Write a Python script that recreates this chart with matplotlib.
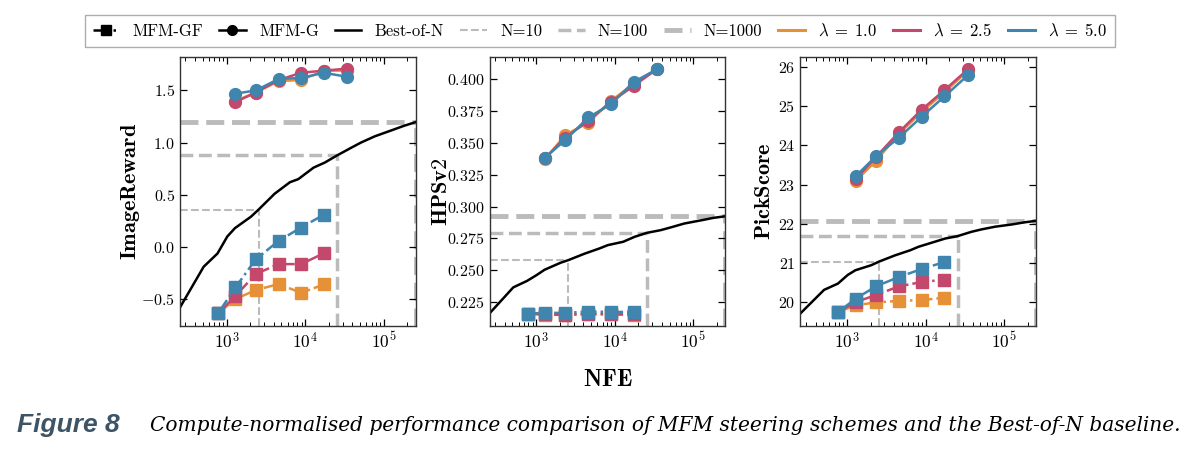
import matplotlib
matplotlib.use("Agg")
import matplotlib.pyplot as plt
from matplotlib.lines import Line2D
from matplotlib.ticker import FuncFormatter, LogLocator, MultipleLocator
import numpy as np

plt.rcParams['font.family'] = 'serif'
plt.rcParams['font.serif'] = ['cmr10', 'DejaVu Serif']
plt.rcParams['mathtext.fontset'] = 'cm'
plt.rcParams['axes.unicode_minus'] = False

# ---- data ----
metrics = ['ImageReward', 'HPSv2', 'PickScore']
lambdas = ['1.0', '2.5', '5.0']

# Best-of-N baseline: N samples, 256 NFE each
bon_n = [1, 2, 3, 4, 5, 8, 10, 16, 25, 32, 50, 70, 100, 150, 200, 300, 500, 700, 1000]
bon_ir = [-0.58, -0.19, -0.063, 0.10, 0.18, 0.29, 0.358, 0.51, 0.62, 0.65, 0.76, 0.81,
          0.878, 0.95, 1.00, 1.06, 1.12, 1.16, 1.197]
bon_hps = [0.2164, 0.2367, 0.2418, 0.2465, 0.2505, 0.2560, 0.2580, 0.2630, 0.2672, 0.2698,
           0.2724, 0.2763, 0.2794, 0.2815, 0.2836, 0.2867, 0.2893, 0.2911, 0.2924]
bon_pick = [19.72, 20.32, 20.48, 20.70, 20.82, 20.95, 21.04, 21.20, 21.33, 21.42, 21.54,
            21.63, 21.69, 21.80, 21.86, 21.93, 21.99, 22.04, 22.08]
nfe_per_sample = 256
n_marks = [10, 100, 1000]

# MFM-G (circles)
g_nfe = [1300, 2350, 4600, 8900, 17400, 34600]
g_ir = [[1.40, 1.48, 1.59, 1.60, 1.69, 1.69],
        [1.39, 1.48, 1.60, 1.67, 1.69, 1.71],
        [1.47, 1.50, 1.61, 1.62, 1.67, 1.63]]
g_hps = [[0.337, 0.356, 0.3657, 0.3827, 0.396, 0.4076],
         [0.338, 0.354, 0.367, 0.3817, 0.3945, 0.4076],
         [0.3383, 0.352, 0.3697, 0.380, 0.3974, 0.4076]]
g_pick = [[23.10, 23.61, 24.30, 24.85, 25.36, 25.90],
          [23.15, 23.71, 24.34, 24.91, 25.41, 25.94],
          [23.22, 23.73, 24.20, 24.73, 25.25, 25.79]]

# MFM-GF (squares)
gf_nfe = [780, 1300, 2350, 4600, 8900, 17400]
gf_ir = [[-0.637, -0.50, -0.414, -0.356, -0.44, -0.36],
         [-0.637, -0.47, -0.26, -0.165, -0.165, -0.06],
         [-0.637, -0.388, -0.12, 0.058, 0.186, 0.31]]
gf_hps = [[0.2162, 0.2153, 0.2152, 0.2157, 0.2155, 0.2153],
          [0.2162, 0.2155, 0.2153, 0.2160, 0.2157, 0.2155],
          [0.2162, 0.2168, 0.2167, 0.2178, 0.2175, 0.2175]]
gf_pick = [[19.76, 19.93, 20.00, 20.04, 20.06, 20.12],
           [19.76, 20.01, 20.19, 20.41, 20.52, 20.58],
           [19.76, 20.10, 20.41, 20.65, 20.85, 21.03]]

ylims = [(-0.758, 1.819), (0.2065, 0.4169), (19.40, 26.25)]
ysteps = [0.5, 0.025, 1.0]
yfmts = ['%.1f', '%.3f', '%d']

colors = ['#e69138', '#c4476c', '#3f85ad']
gray = '#bbbbbb'
n_lw = [1.5, 2.5, 3.5]

bon_all = [bon_ir, bon_hps, bon_pick]
g_all = [g_ir, g_hps, g_pick]
gf_all = [gf_ir, gf_hps, gf_pick]

fig = plt.figure(figsize=(12, 4.54), dpi=100)
lefts = [0.150, 0.408, 0.667]
label_x = [-0.162, -0.165, -0.11]
bon_nfe = np.array(bon_n) * nfe_per_sample
xmin, xmax = bon_nfe[0], bon_nfe[-1]

for i in range(3):
    ax = fig.add_axes([lefts[i], 0.282, 0.1965, 0.592])
    lo, hi = ylims[i]
    # Best-of-N reference lines
    for k, n in enumerate(n_marks):
        v = bon_all[i][bon_n.index(n)]
        x = n * nfe_per_sample
        ax.plot([xmin, x], [v, v], ls='--', color=gray, lw=n_lw[k], zorder=1)
        ax.plot([x, x], [lo, v], ls='--', color=gray, lw=n_lw[k], zorder=1)
    ax.plot(bon_nfe, bon_all[i], color='black', lw=1.8, zorder=2)
    for j in range(3):
        ax.plot(gf_nfe, gf_all[i][j], ls='-.', marker='s', ms=8, lw=1.8,
                color=colors[j], zorder=3)
    for j in range(3):
        ax.plot(g_nfe, g_all[i][j], ls='-', marker='o', ms=8.5, lw=1.8,
                color=colors[j], zorder=3)
    ax.set_xscale('log')
    ax.set_xlim(xmin, xmax)
    ax.set_ylim(lo, hi)
    ax.xaxis.set_major_locator(LogLocator(base=10))
    ax.xaxis.set_minor_locator(LogLocator(base=10, subs=np.arange(2, 10)))
    ax.xaxis.set_major_formatter(FuncFormatter(lambda v, p: r'$10^{%d}$' % round(np.log10(v))))
    ax.yaxis.set_major_locator(MultipleLocator(ysteps[i]))
    fmt = yfmts[i]
    ax.yaxis.set_major_formatter(FuncFormatter(lambda v, p, f=fmt: r'$%s$' % (f % v)))
    ax.tick_params(which='both', direction='in', top=True, right=True, labelsize=11.5)
    ax.tick_params(axis='x', labelsize=12.5)
    ax.tick_params(which='major', length=5, width=0.9)
    ax.tick_params(which='minor', length=2.8, width=0.7)
    for s in ax.spines.values():
        s.set_color('#333333')
        s.set_linewidth(1.0)
    ax.set_ylabel(r'$\mathbf{%s}$' % metrics[i], fontsize=16)
    ax.yaxis.set_label_coords(label_x[i], 0.5)

fig.text(0.507, 0.163, r'$\mathbf{NFE}$', fontsize=17, ha='center', va='center')

handles = [
    Line2D([], [], color='black', ls='-.', marker='s', ms=7, lw=1.8),
    Line2D([], [], color='black', ls='-', marker='o', ms=7, lw=1.8),
    Line2D([], [], color='black', lw=1.8),
    Line2D([], [], color=gray, ls='--', lw=n_lw[0]),
    Line2D([], [], color=gray, ls='--', lw=n_lw[1]),
    Line2D([], [], color=gray, ls='--', lw=n_lw[2]),
] + [Line2D([], [], color=c, lw=2.2) for c in colors]
labels = ['MFM-GF', 'MFM-G', 'Best-of-N'] + ['N=%d' % n for n in n_marks] + \
         [r'$\lambda\;=\;%s$' % l for l in lambdas]
leg = fig.legend(handles, labels, loc='upper center', bbox_to_anchor=(0.5, 0.985), ncol=10,
                 fontsize=12, frameon=True, fancybox=False, edgecolor='#999999',
                 handlelength=1.6, columnspacing=0.95, handletextpad=0.8, borderpad=0.45)
leg.get_frame().set_linewidth(1.0)

# caption, sized to span the same width as in the original
fig.canvas.draw()
r = fig.canvas.get_renderer()
t1 = fig.text(17 / 1200, 0.063, 'Figure 8', fontsize=19, fontweight='bold', style='italic',
              color='#3d5366', family=['Liberation Sans Narrow', 'Liberation Sans'], va='center')
t2 = fig.text(150 / 1200, 0.063, 'Compute-normalised performance comparison of MFM steering '
              'schemes and the Best-of-N baseline.', fontsize=15, style='italic',
              family=['DejaVu Serif'], va='center')
cur = t2.get_window_extent(r).width
t2.set_fontsize(t2.get_fontsize() * 1033 / cur)

fig.savefig('out.png', dpi=100)
